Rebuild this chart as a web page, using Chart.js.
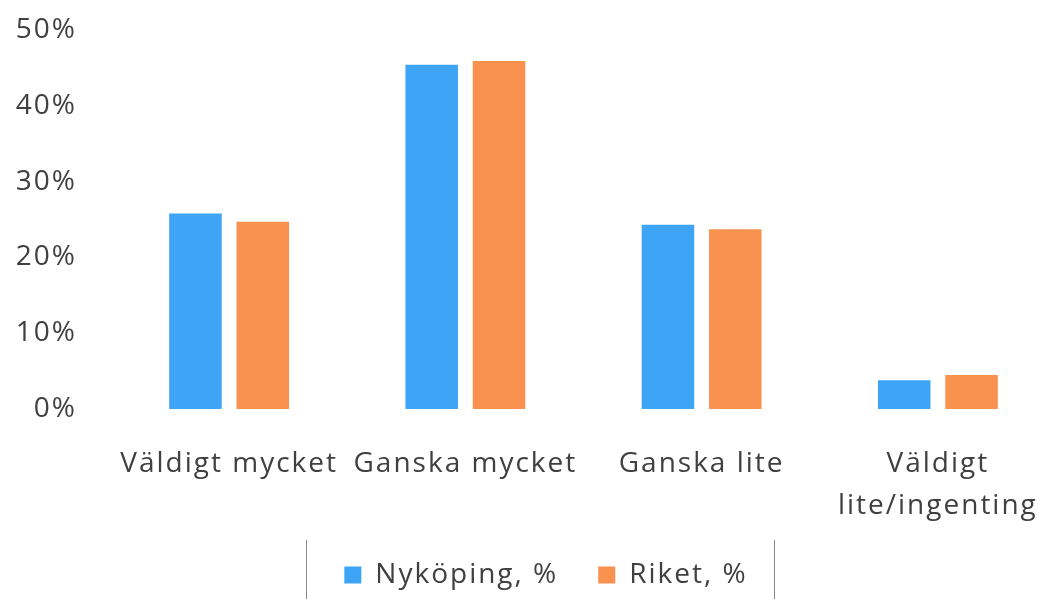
<!DOCTYPE html>
<html>
<head>
<meta charset="utf-8">
<script src="https://cdn.jsdelivr.net/npm/chart.js@4"></script>
<style>
body{margin:0;background:#fff;overflow:hidden;}
#wrap{width:1056px;height:599px;}
</style>
</head>
<body>
<div id="wrap"><canvas id="chart" width="1056" height="599"></canvas></div>
<script>
// Categories and values (percent)
const categories = ["Väldigt mycket", "Ganska mycket", "Ganska lite", ["Väldigt", "lite/ingenting"]];
const nykoping = [25.8, 45.4, 24.3, 3.8];
const riket = [24.7, 45.9, 23.7, 4.5];
const seriesNames = ["Nyköping, %", "Riket, %"];
const yTicks = [0, 10, 20, 30, 40, 50];

const textColor = "#404040";
const fontFamily = "'Open Sans', sans-serif";
const legendShift = 18;

// the reference text is set a little wider
const wideText = {
id: "wideText",
beforeUpdate(chart){ chart.ctx.letterSpacing = "2px"; },
beforeDraw(chart){ chart.ctx.letterSpacing = "2px"; }
};

// move the legend a bit right and draw its side borders
const legendBorder = {
id: "legendBorder",
afterLayout(chart){
const lg = chart.legend;
lg.left += legendShift;
lg.right += legendShift;
},
afterDraw(chart){
const lg = chart.legend;
if(!lg || !lg.legendHitBoxes.length) return;
const boxes = lg.legendHitBoxes;
const ctx = chart.ctx;
const first = boxes[0], last = boxes[boxes.length-1];
const left = Math.round(first.left) - 38;
const right = Math.round(last.left + last.width) + 26;
ctx.save();
ctx.strokeStyle = "#8a8a8a";
ctx.lineWidth = 1;
ctx.beginPath();
ctx.moveTo(left+0.5, 540); ctx.lineTo(left+0.5, 599);
ctx.moveTo(right+0.5, 540); ctx.lineTo(right+0.5, 599);
ctx.stroke();
ctx.restore();
}
};

new Chart(document.getElementById("chart"),{
type:"bar",
data:{
labels:categories,
datasets:[
{label:seriesNames[0], data:nykoping, backgroundColor:"#3ea4f6"},
{label:seriesNames[1], data:riket, backgroundColor:"#f9914f"}
]
},
options:{
responsive:false,
animation:false,
devicePixelRatio:1,
layout:{padding:{left:0, top:30, right:0, bottom:0}},
datasets:{bar:{categoryPercentage:0.57, barPercentage:0.78}},
plugins:{
tooltip:{enabled:false},
legend:{
position:"bottom",
labels:{
color:textColor,
font:{family:fontFamily, size:28, lineHeight:1.0},
boxWidth:17, boxHeight:17,
padding:40
}
}
},
scales:{
x:{
grid:{display:false, drawTicks:false},
border:{display:false},
afterFit(axis){ axis.height = 112; axis.paddingLeft = 0; axis.paddingRight = 0; },
ticks:{color:textColor, font:{family:fontFamily, size:28, lineHeight:1.5}, padding:34, maxRotation:0, autoSkip:false}
},
y:{
min:0, max:50,
grid:{display:false, drawTicks:false},
border:{display:false},
afterFit(axis){ axis.width = 111; axis.paddingTop = 0; axis.paddingBottom = 0; },
afterBuildTicks(axis){ axis.ticks = yTicks.map(v=>({value:v})); },
ticks:{color:textColor, font:{family:fontFamily, size:28}, padding:34, callback:v=>v+"%"}
}
}
},
plugins:[wideText, legendBorder]
});
</script>
</body>
</html>
